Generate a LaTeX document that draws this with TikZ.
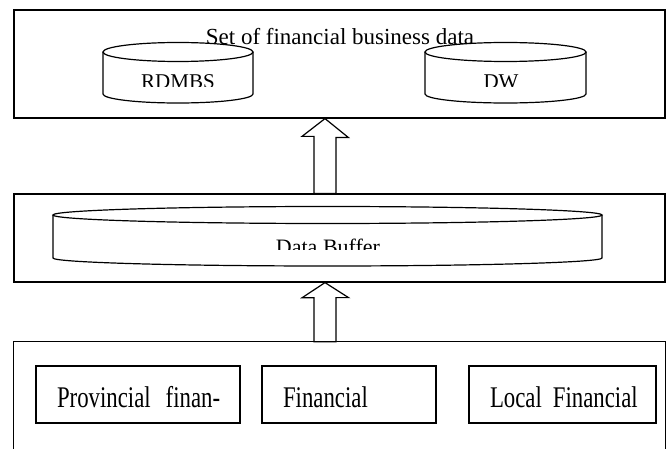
\documentclass[tikz,border=0pt]{standalone}
\usepackage{fontspec}
\setmainfont{Liberation Serif}
\newfontfamily\narrowfont{Liberation Serif}[FakeStretch=0.76]
\usetikzlibrary{calc}
\tikzset{
  frame/.style={draw, line width=1.2pt, inner sep=0pt},
  ibox/.style={draw, line width=1.1pt, inner xsep=21pt, inner ysep=0pt, minimum height=57pt,
     text height=26pt, text depth=0pt, align=left, font=\narrowfont\fontsize{30}{33}\selectfont},
  blockarrow/.style={draw, line width=1.2pt, fill=white, line join=miter},
  cyl/.style={line width=1.2pt},
  cyltext/.style={anchor=base, inner sep=0pt, font=\fontsize{21}{24}\selectfont},
}
\begin{document}
\begin{tikzpicture}[x=1pt,y=1pt]
\useasboundingbox (0,0) rectangle (672,-449);
% outer frames
\node[frame, minimum width=651pt, minimum height=108pt] (top) at (339.5,-64) {};
\node[frame, minimum width=651pt, minimum height=88pt] (mid) at (339.5,-238) {};
\node[inner sep=0pt, minimum width=651pt, minimum height=107pt] (bot) at (339.5,-395.5) {};
\draw[line width=1.2pt] (bot.south west) -- (bot.north west) -- (bot.north east) -- (bot.south east);
% title
\node[anchor=base, inner sep=0pt, font=\fontsize{23}{26}\selectfont] (title) at (340,-45) {Set of financial business data};
% cylinders in top box
\fill[white] (103,-52) -- (103,-94) arc[start angle=180,end angle=360,x radius=75,y radius=9] -- (253,-52) arc[start angle=0,end angle=180,x radius=75,y radius=9.5] -- cycle;
\draw[cyl] (103,-52) -- (103,-94) arc[start angle=180,end angle=360,x radius=75,y radius=9] -- (253,-52);
\draw[cyl] (178,-52) ellipse[x radius=75,y radius=9.5];
\fill[white] (425,-52) -- (425,-94) arc[start angle=180,end angle=360,x radius=80.5,y radius=9] -- (586,-52) arc[start angle=0,end angle=180,x radius=80.5,y radius=9.5] -- cycle;
\draw[cyl] (425,-52) -- (425,-94) arc[start angle=180,end angle=360,x radius=80.5,y radius=9] -- (586,-52);
\draw[cyl] (505.5,-52) ellipse[x radius=80.5,y radius=9.5];
\begin{scope}
  \clip (105,-62) rectangle (251,-87);
  \node[cyltext] (rdb) at (178,-89) {RDMBS};
\end{scope}
\begin{scope}
  \clip (427,-62) rectangle (584,-87);
  \node[cyltext] (dw) at (501,-89) {DW};
\end{scope}
% data buffer cylinder
\draw[cyl] (53,-215) -- (53,-258) arc[start angle=180,end angle=360,x radius=274.5,y radius=8] -- (602,-215);
\draw[cyl] (327.5,-215) ellipse[x radius=274.5,y radius=8.5];
\begin{scope}
  \clip (55,-225) rectangle (600,-250);
  \node[cyltext, font=\fontsize{22}{25}\selectfont] (buffer) at (328,-254.5) {Data Buffer};
\end{scope}
% block arrows
\coordinate (a1) at ($(top.south)+(-14.5,0)$);
\draw[blockarrow] (a1) -- ++(23.5,-19) -- ++(-12.5,0) -- ($(a1 |- mid.north)+(11,0)$) -- ($(a1 |- mid.north)+(-11,0)$) -- ++(0,57) -- ++(-12,0) -- cycle;
\coordinate (a2) at ($(mid.south)+(-14.5,0)$);
\draw[blockarrow] (a2) -- ++(23.5,-15) -- ++(-12.5,0) -- ($(a2 |- bot.north)+(11,0)$) -- ($(a2 |- bot.north)+(-11,0)$) -- ++(0,44) -- ++(-12,0) -- cycle;
% source boxes
\node[ibox, minimum width=204pt, text width=162pt] (prov) at (138,-394.5) {\mbox{Provincial\hspace{5pt} finan-}};
\node[ibox, minimum width=174pt, text width=132pt] (fin) at (349,-394.5) {\mbox{Financial}};
\node[ibox, minimum width=187pt, text width=145pt] (loc) at (562.5,-394.5) {\mbox{Local\hspace{1pt} Financial}};
\end{tikzpicture}
\end{document}
